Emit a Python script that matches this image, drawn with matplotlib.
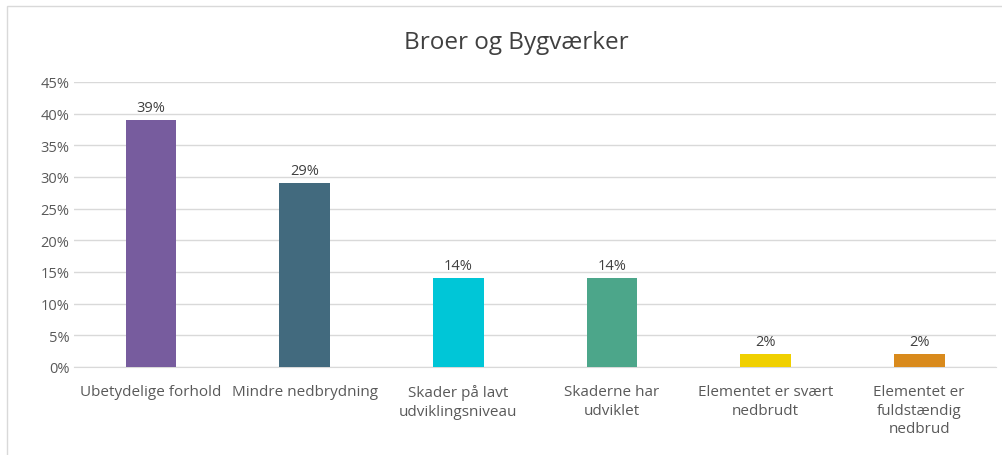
import matplotlib.pyplot as plt
from matplotlib.patches import Rectangle
from matplotlib.ticker import PercentFormatter

categories = ['Ubetydelige forhold', 'Mindre nedbrydning', 'Skader på lavt\nudviklingsniveau',
              'Skaderne har\nudviklet', 'Elementet er svært\nnedbrudt', 'Elementet er\nfuldstændig\nnedbrud']
values = [39, 29, 14, 14, 2, 2]
colors = ['#775C9E', '#426A7E', '#00C6D7', '#4CA68A', '#F0D000', '#D98A1C']

plt.rcParams['font.family'] = ['Open Sans', 'DejaVu Sans']

fig = plt.figure(figsize=(10.02, 4.56), dpi=100)
ax = fig.add_axes([0.074, 0.193, 0.920, 0.625])

x = range(len(values))
ax.bar(x, values, width=0.33, color=colors, zorder=3)
for i, v in enumerate(values):
    ax.text(i, v + 0.8, f'{v}%', ha='center', va='bottom', fontsize=10.5, color='#404040')

ax.set_ylim(0, 45)
ax.set_xlim(-0.5, len(values) - 0.5)
ax.set_yticks(range(0, 46, 5))
ax.yaxis.set_major_formatter(PercentFormatter(decimals=0))
ax.set_xticks(list(x))
ax.set_xticklabels(categories, linespacing=1.35)
ax.tick_params(axis='both', length=0, labelsize=10.5, labelcolor='#595959')
ax.tick_params(axis='x', pad=12, labelsize=11)
ax.grid(axis='y', color='#D9D9D9', linewidth=1, zorder=0)
for s in ['top', 'right', 'left']:
    ax.spines[s].set_visible(False)
ax.spines['bottom'].set_color('#D9D9D9')

fig.text(0.515, 0.905, 'Broer og Bygværker', ha='center', va='center', fontsize=17.5, color='#404040')
fig.patches.append(Rectangle((0.007, -0.01), 1.0, 0.995, transform=fig.transFigure,
                             fill=False, edgecolor='#D9D9D9', linewidth=1))

fig.savefig('out.png', dpi=100)
